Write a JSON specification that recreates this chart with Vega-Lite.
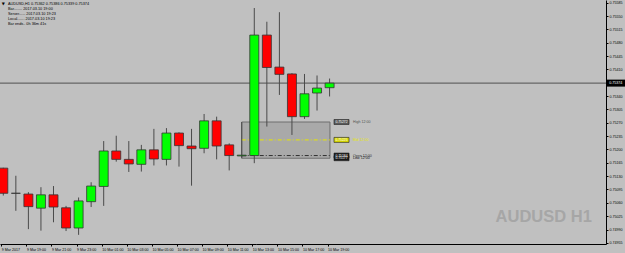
{
  "$schema": "https://vega.github.io/schema/vega-lite/v6.json",
  "width": 606,
  "height": 244,
  "autosize": {"type": "none"},
  "padding": {"left": 0, "top": 0, "right": 19, "bottom": 9},
  "background": "#c0c0c0",
  "config": {"view": {"stroke": null}, "font": "Liberation Sans", "scale": {"continuousPadding": 0}},
  "resolve": {"axis": {"x": "independent", "y": "independent"}},
  "datasets": {
    "bars": [
      {"i": 0, "o": 0.75151, "h": 0.75152, "l": 0.75079, "c": 0.75085},
      {"i": 1, "o": 0.75085, "h": 0.75131, "l": 0.75039, "c": 0.75085},
      {"i": 2, "o": 0.75083, "h": 0.75088, "l": 0.74991, "c": 0.75050},
      {"i": 3, "o": 0.75046, "h": 0.75101, "l": 0.74987, "c": 0.75081},
      {"i": 4, "o": 0.75081, "h": 0.75104, "l": 0.75009, "c": 0.75049},
      {"i": 5, "o": 0.75047, "h": 0.75052, "l": 0.74986, "c": 0.74994},
      {"i": 6, "o": 0.74994, "h": 0.75074, "l": 0.74976, "c": 0.75065},
      {"i": 7, "o": 0.75063, "h": 0.75114, "l": 0.75049, "c": 0.75104},
      {"i": 8, "o": 0.75103, "h": 0.75222, "l": 0.75052, "c": 0.75196},
      {"i": 9, "o": 0.75196, "h": 0.75236, "l": 0.75168, "c": 0.75174},
      {"i": 10, "o": 0.75174, "h": 0.75222, "l": 0.75141, "c": 0.75162},
      {"i": 11, "o": 0.75161, "h": 0.75212, "l": 0.75142, "c": 0.75199},
      {"i": 12, "o": 0.75199, "h": 0.75254, "l": 0.75158, "c": 0.75175},
      {"i": 13, "o": 0.75174, "h": 0.75256, "l": 0.75158, "c": 0.75243},
      {"i": 14, "o": 0.75243, "h": 0.75245, "l": 0.75155, "c": 0.75210},
      {"i": 15, "o": 0.75209, "h": 0.75254, "l": 0.75105, "c": 0.75202},
      {"i": 16, "o": 0.75203, "h": 0.75293, "l": 0.75190, "c": 0.75275},
      {"i": 17, "o": 0.75275, "h": 0.75286, "l": 0.75174, "c": 0.75209},
      {"i": 18, "o": 0.75212, "h": 0.75216, "l": 0.75145, "c": 0.75184},
      {"i": 19, "o": 0.75183, "h": 0.75272, "l": 0.75177, "c": 0.75185},
      {"i": 20, "o": 0.75184, "h": 0.75571, "l": 0.75164, "c": 0.75500},
      {"i": 21, "o": 0.75500, "h": 0.75535, "l": 0.75260, "c": 0.75415},
      {"i": 22, "o": 0.75416, "h": 0.75560, "l": 0.75343, "c": 0.75397},
      {"i": 23, "o": 0.75398, "h": 0.75400, "l": 0.75238, "c": 0.75286},
      {"i": 24, "o": 0.75286, "h": 0.75398, "l": 0.75280, "c": 0.75346},
      {"i": 25, "o": 0.75348, "h": 0.75394, "l": 0.75302, "c": 0.75361},
      {"i": 26, "o": 0.75362, "h": 0.75386, "l": 0.75339, "c": 0.75374}
    ],
    "box": [{"x1": 19, "x2": 26.03, "hi": 0.75272, "lo": 0.75177}],
    "levels": [
      {"name": "Mid", "p": 0.75225, "x1": 19, "x2": 26.03},
      {"name": "Open", "p": 0.75184, "x1": 19, "x2": 26.03}
    ],
    "current": [{"p": 0.75374, "text": "0.75374"}],
    "tags": [
      {"name": "High", "p": 0.75272, "text": "0.75272", "label": "High 12:00"},
      {"name": "Mid", "p": 0.75225, "text": "0.75225", "label": "Mid 12:00"},
      {"name": "Open", "p": 0.75184, "text": "0.75184", "label": "Open 12:00"},
      {"name": "Low", "p": 0.75177, "text": "0.75177", "label": "Low 12:00"}
    ],
    "head": [
      {"text": "AUDUSD,H1  0.75362 0.75386 0.75339 0.75374", "p": 0.75582},
      {"text": "Bar........  2017.03.10 19:00", "p": 0.75568},
      {"text": "Server......  2017.03.10 19:23", "p": 0.75555},
      {"text": "Local.......  2017.03.10 19:23", "p": 0.75542},
      {"text": "Bar ends..  0h 36m 41s", "p": 0.75529}
    ],
    "mark": [{"text": "AUDUSD H1", "i": 46.9, "p": 0.75010}]
  },
  "layer": [
    {
      "data": {"name": "mark"},
      "mark": {"type": "text", "align": "right", "baseline": "alphabetic", "fontSize": 16.5, "fontWeight": "bold", "font": "Liberation Sans", "color": "#a6a6a6"},
      "encoding": {
        "x": {"field": "i", "type": "quantitative", "scale": {"domain": [-0.263, 48.025], "nice": false, "zero": false, "padding": 0}, "axis": null},
        "y": {"field": "p", "type": "quantitative", "scale": {"domain": [0.74952, 0.75592], "nice": false, "zero": false, "padding": 0}, "axis": null},
        "text": {"field": "text"}
      }
    },
    {
      "data": {"name": "box"},
      "mark": {"type": "rect", "fill": "#a9a9a9", "stroke": "#6e6e6e", "strokeWidth": 1},
      "encoding": {
        "x": {"field": "x1", "type": "quantitative", "scale": {"domain": [-0.263, 48.025], "nice": false, "zero": false, "padding": 0}, "axis": null},
        "x2": {"field": "x2"},
        "y": {"field": "hi", "type": "quantitative", "scale": {"domain": [0.74952, 0.75592], "nice": false, "zero": false, "padding": 0}, "axis": null},
        "y2": {"field": "lo"}
      }
    },
    {
      "data": {"name": "levels"},
      "mark": {"type": "rule", "strokeWidth": 1, "strokeDash": [4, 2, 1, 2]},
      "encoding": {
        "x": {"field": "x1", "type": "quantitative", "scale": {"domain": [-0.263, 48.025], "nice": false, "zero": false, "padding": 0}, "axis": null},
        "x2": {"field": "x2"},
        "y": {"field": "p", "type": "quantitative", "scale": {"domain": [0.74952, 0.75592], "nice": false, "zero": false, "padding": 0}, "axis": null},
        "color": {"field": "name", "type": "nominal", "scale": {"domain": ["High", "Mid", "Open", "Low"], "range": ["#505050", "#e6e600", "#303030", "#101010"]}, "legend": null}
      }
    },
    {
      "data": {"name": "current"},
      "mark": {"type": "rule", "color": "#505050", "strokeWidth": 1},
      "encoding": {
        "y": {"field": "p", "type": "quantitative", "scale": {"domain": [0.74952, 0.75592], "nice": false, "zero": false, "padding": 0}, "axis": null}
      }
    },
    {
      "data": {"name": "bars"},
      "mark": {"type": "rule", "color": "#4a4a4a", "strokeWidth": 1},
      "encoding": {
        "x": {"field": "i", "type": "quantitative", "scale": {"domain": [-0.263, 48.025], "nice": false, "zero": false, "padding": 0}, "axis": null},
        "y": {"field": "l", "type": "quantitative", "scale": {"domain": [0.74952, 0.75592], "nice": false, "zero": false, "padding": 0}, "axis": null},
        "y2": {"field": "h"}
      }
    },
    {
      "data": {"name": "bars"},
      "mark": {"type": "bar", "size": 9, "stroke": "#333333", "strokeWidth": 0.8},
      "encoding": {
        "x": {
          "field": "i", "type": "quantitative",
          "scale": {"domain": [-0.263, 48.025], "nice": false, "zero": false, "padding": 0},
          "axis": {
            "orient": "bottom", "title": null, "grid": false,
            "values": [0, 2, 4, 6, 8, 10, 12, 14, 16, 18, 20, 22, 24, 26],
            "labelExpr": "['9 Mar 2017','9 Mar 19:00','9 Mar 21:00','9 Mar 23:00','10 Mar 01:00','10 Mar 03:00','10 Mar 05:00','10 Mar 07:00','10 Mar 09:00','10 Mar 11:00','10 Mar 13:00','10 Mar 15:00','10 Mar 17:00','10 Mar 19:00'][round(datum.value/2)]",
            "labelAlign": "left", "labelFontSize": 3.6, "labelColor": "#000000", "labelPadding": 1, "labelDx": -1,
            "tickSize": 2, "tickColor": "#000000", "tickOffset": -2, "domainColor": "#000000", "labelFlush": false, "labelOverlap": false
          }
        },
        "y": {
          "field": "o", "type": "quantitative",
          "scale": {"domain": [0.74952, 0.75592], "nice": false, "zero": false, "padding": 0},
          "axis": {
            "orient": "right", "title": null, "grid": false,
            "values": [0.74955, 0.7499, 0.75025, 0.7506, 0.75095, 0.7513, 0.75165, 0.752, 0.75235, 0.7527, 0.75305, 0.7534, 0.7541, 0.75445, 0.7548, 0.75515, 0.7555, 0.75585],
            "format": ".5f", "labelFontSize": 3.6, "labelColor": "#000000", "labelPadding": 1,
            "tickSize": 2, "tickColor": "#000000", "domainColor": "#000000", "labelFlush": false, "labelOverlap": false
          }
        },
        "y2": {"field": "c"},
        "fill": {"condition": {"test": "datum.c >= datum.o", "value": "#00ff00"}, "value": "#ff0000"}
      }
    },
    {
      "data": {"name": "tags"},
      "mark": {"type": "bar", "size": 5, "stroke": "#202020", "strokeWidth": 0.6},
      "encoding": {
        "x": {"datum": 26.35, "type": "quantitative", "scale": {"domain": [-0.263, 48.025], "nice": false, "zero": false, "padding": 0}, "axis": null},
        "x2": {"datum": 27.55},
        "y": {"field": "p", "type": "quantitative", "scale": {"domain": [0.74952, 0.75592], "nice": false, "zero": false, "padding": 0}, "axis": null},
        "fill": {"field": "name", "type": "nominal", "scale": {"domain": ["High", "Mid", "Open", "Low"], "range": ["#5a5a5a", "#d8d800", "#1a1a1a", "#1a1a1a"]}, "legend": null}
      }
    },
    {
      "data": {"name": "tags"},
      "mark": {"type": "text", "align": "center", "baseline": "middle", "fontSize": 3.4, "color": "#ffffff"},
      "encoding": {
        "x": {"datum": 26.95, "type": "quantitative", "scale": {"domain": [-0.263, 48.025], "nice": false, "zero": false, "padding": 0}, "axis": null},
        "y": {"field": "p", "type": "quantitative", "scale": {"domain": [0.74952, 0.75592], "nice": false, "zero": false, "padding": 0}, "axis": null},
        "text": {"field": "text"}
      }
    },
    {
      "data": {"name": "tags"},
      "mark": {"type": "text", "align": "left", "baseline": "middle", "fontSize": 3.6},
      "encoding": {
        "x": {"datum": 27.87, "type": "quantitative", "scale": {"domain": [-0.263, 48.025], "nice": false, "zero": false, "padding": 0}, "axis": null},
        "y": {"field": "p", "type": "quantitative", "scale": {"domain": [0.74952, 0.75592], "nice": false, "zero": false, "padding": 0}, "axis": null},
        "text": {"field": "label"},
        "color": {"field": "name", "type": "nominal", "scale": {"domain": ["High", "Mid", "Open", "Low"], "range": ["#303030", "#e6e600", "#101010", "#101010"]}, "legend": null}
      }
    },
    {
      "data": {"name": "current"},
      "mark": {"type": "bar", "size": 7, "fill": "#000000"},
      "encoding": {
        "x": {"datum": 48.08, "type": "quantitative", "scale": {"domain": [-0.263, 48.025], "nice": false, "zero": false, "padding": 0}, "axis": null},
        "x2": {"datum": 49.6},
        "y": {"field": "p", "type": "quantitative", "scale": {"domain": [0.74952, 0.75592], "nice": false, "zero": false, "padding": 0}, "axis": null}
      }
    },
    {
      "data": {"name": "current"},
      "mark": {"type": "text", "align": "left", "baseline": "middle", "fontSize": 3.6, "color": "#ffffff"},
      "encoding": {
        "x": {"datum": 48.28, "type": "quantitative", "scale": {"domain": [-0.263, 48.025], "nice": false, "zero": false, "padding": 0}, "axis": null},
        "y": {"field": "p", "type": "quantitative", "scale": {"domain": [0.74952, 0.75592], "nice": false, "zero": false, "padding": 0}, "axis": null},
        "text": {"field": "text"}
      }
    },
    {
      "data": {"name": "head"},
      "mark": {"type": "text", "align": "left", "baseline": "middle", "fontSize": 3.8, "color": "#000000"},
      "encoding": {
        "x": {"datum": 0.375, "type": "quantitative", "scale": {"domain": [-0.263, 48.025], "nice": false, "zero": false, "padding": 0}, "axis": null},
        "y": {"field": "p", "type": "quantitative", "scale": {"domain": [0.74952, 0.75592], "nice": false, "zero": false, "padding": 0}, "axis": null},
        "text": {"field": "text"}
      }
    },
    {
      "data": {"values": [{"text": "▼", "p": 0.75582}]},
      "mark": {"type": "text", "align": "center", "baseline": "middle", "fontSize": 4, "color": "#000000", "font": "DejaVu Sans"},
      "encoding": {
        "x": {"datum": 0.0, "type": "quantitative", "scale": {"domain": [-0.263, 48.025], "nice": false, "zero": false, "padding": 0}, "axis": null},
        "y": {"field": "p", "type": "quantitative", "scale": {"domain": [0.74952, 0.75592], "nice": false, "zero": false, "padding": 0}, "axis": null},
        "text": {"field": "text"}
      }
    }
  ]
}
